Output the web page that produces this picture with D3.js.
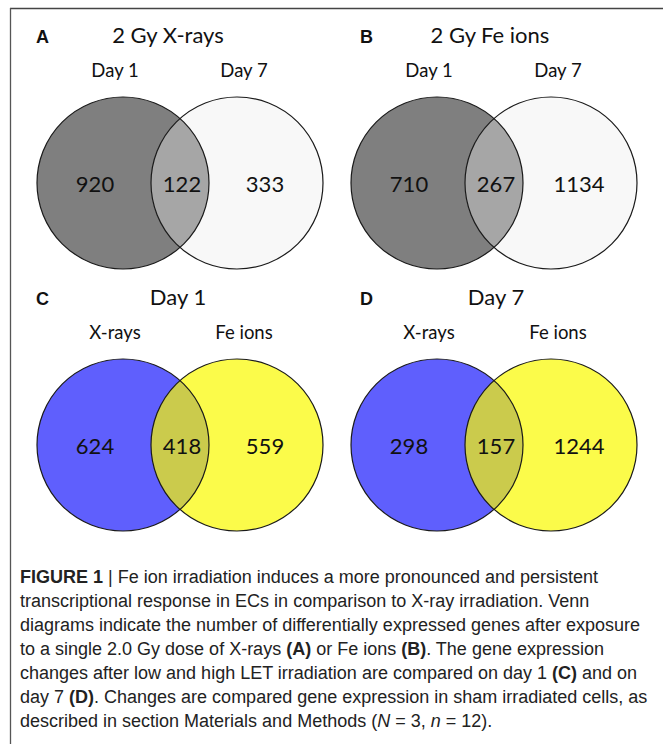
<!DOCTYPE html>
<html lang="en">
<head>
    <meta charset="utf-8">
    <title>Figure 1 Venn diagrams</title>
    <script src="https://d3js.org/d3.v7.min.js"></script>
    <style>
        body {
            margin: 0;
            background: #fff;
        }
        svg text {
            fill: #111;
        }
        .label {
            font-family: Lato, "Open Sans", sans-serif;
        }
        .letter {
            font-family: "Liberation Sans", Arial, sans-serif;
            font-weight: bold;
            font-size: 18px;
        }
        .caption {
            font-family: "Liberation Sans", Arial, sans-serif;
            font-size: 18px;
            fill: #222;
        }
    </style>
</head>
<body>
<script>

    var w = 663;
    var h = 744;

    // one entry per panel
    var panels = ["A", "B", "C", "D"];
    var titles = ["2 Gy X-rays", "2 Gy Fe ions", "Day 1", "Day 7"];
    var leftSets = ["Day 1", "Day 1", "X-rays", "X-rays"];
    var rightSets = ["Day 7", "Day 7", "Fe ions", "Fe ions"];
    var onlyLeft = [920, 710, 624, 298];
    var overlap = [122, 267, 418, 157];
    var onlyRight = [333, 1134, 559, 1244];

    var leftFill = ["#7f7f7f", "#7f7f7f", "#5f5ffd", "#5f5ffd"];
    var rightFill = ["#f8f8f8", "#f8f8f8", "#fbfb4a", "#fbfb4a"];
    var midFill = ["#a6a6a6", "#a6a6a6", "#cbcb4c", "#cbcb4c"];

    // caption lines (bold / italic pieces marked)
    var captionLines = [
        [["FIGURE 1", "b"], [" | Fe ion irradiation induces a more pronounced and persistent", ""]],
        [["transcriptional response in ECs in comparison to X-ray irradiation. Venn", ""]],
        [["diagrams indicate the number of differentially expressed genes after exposure", ""]],
        [["to a single 2.0 Gy dose of X-rays ", ""], ["(A)", "b"], [" or Fe ions ", ""], ["(B)", "b"], [". The gene expression", ""]],
        [["changes after low and high LET irradiation are compared on day 1 ", ""], ["(C)", "b"], [" and on", ""]],
        [["day 7 ", ""], ["(D)", "b"], [". Changes are compared gene expression in sham irradiated cells, as", ""]],
        [["described in section Materials and Methods (", ""], ["N", "i"], [" = 3, ", ""], ["n", "i"], [" = 12).", ""]]
    ];

    var r = 86;
    var gap = 114; // distance between circle centres

    // panel grid: column -> x of left circle, row -> y of circles
    var colX = d3.scaleOrdinal().domain([0, 1]).range([123, 437]);
    var rowY = d3.scaleOrdinal().domain([0, 1]).range([183, 445]);
    var letterX = d3.scaleOrdinal().domain([0, 1]).range([36, 360]);
    var titleShift = [45, 53, 55, 59]; // title centre relative to left circle

    var svg = d3.select("body")
        .append("svg")
        .attr("width", w)
        .attr("height", h);

    // frame lines (top + left)
    svg.append("line")
        .attr("x1", 10).attr("y1", 8.5).attr("x2", w).attr("y2", 8.5)
        .attr("stroke", "#444").attr("stroke-width", 1.6);
    svg.append("line")
        .attr("x1", 10.5).attr("y1", 8).attr("x2", 10.5).attr("y2", h)
        .attr("stroke", "#555").attr("stroke-width", 1.3);

    var defs = svg.append("defs");

    var g = svg.selectAll("g.panel")
        .data(panels)
        .enter()
        .append("g")
        .attr("class", "panel")
        .attr("transform", function(d, i){
            return "translate(" + colX(i % 2) + "," + rowY(Math.floor(i / 2)) + ")";
        });

    // clip path per panel so the overlap can be filled on its own
    defs.selectAll("clipPath")
        .data(panels)
        .enter()
        .append("clipPath")
        .attr("id", function(d){ return "clip" + d; })
        .append("circle")
        .attr("cx", 0).attr("cy", 0).attr("r", r);

    g.append("circle")
        .attr("cx", 0).attr("cy", 0).attr("r", r)
        .attr("fill", function(d, i){ return leftFill[i]; });

    g.append("circle")
        .attr("cx", gap).attr("cy", 0).attr("r", r)
        .attr("fill", function(d, i){ return rightFill[i]; });

    g.append("circle")
        .attr("cx", gap).attr("cy", 0).attr("r", r)
        .attr("fill", function(d, i){ return midFill[i]; })
        .attr("clip-path", function(d){ return "url(#clip" + d + ")"; });

    // outlines on top
    g.append("circle")
        .attr("cx", 0).attr("cy", 0).attr("r", r)
        .attr("fill", "none").attr("stroke", "#1a1a1a").attr("stroke-width", 1.2);
    g.append("circle")
        .attr("cx", gap).attr("cy", 0).attr("r", r)
        .attr("fill", "none").attr("stroke", "#1a1a1a").attr("stroke-width", 1.2);

    // panel letters
    svg.selectAll("text.letter")
        .data(panels)
        .enter()
        .append("text")
        .attr("class", "letter")
        .attr("x", function(d, i){ return letterX(i % 2); })
        .attr("y", function(d, i){ return rowY(Math.floor(i / 2)) - 140; })
        .text(function(d){ return d; });

    // titles
    g.append("text")
        .attr("class", "label")
        .attr("x", function(d, i){ return titleShift[i]; })
        .attr("y", -140)
        .attr("text-anchor", "middle")
        .style("font-size", "22px")
        .text(function(d, i){ return titles[i]; });

    // set names
    g.append("text")
        .attr("class", "label")
        .attr("x", -8)
        .attr("y", -106)
        .attr("text-anchor", "middle")
        .style("font-size", "18.5px")
        .text(function(d, i){ return leftSets[i]; });
    g.append("text")
        .attr("class", "label")
        .attr("x", gap + 7)
        .attr("y", -106)
        .attr("text-anchor", "middle")
        .style("font-size", "18.5px")
        .text(function(d, i){ return rightSets[i]; });

    // counts
    var counts = [
        {vals: onlyLeft, dx: -28},
        {vals: overlap, dx: 59},
        {vals: onlyRight, dx: 142}
    ];
    counts.forEach(function(c){
        g.append("text")
            .attr("class", "label")
            .attr("x", c.dx)
            .attr("y", 9)
            .attr("text-anchor", "middle")
            .style("font-size", "22px")
            .text(function(d, i){ return c.vals[i]; });
    });

    // caption
    var cap = svg.selectAll("text.caption")
        .data(captionLines)
        .enter()
        .append("text")
        .attr("class", "caption")
        .attr("x", 20)
        .attr("y", function(d, i){ return 583 + i * 24; });

    cap.selectAll("tspan")
        .data(function(d){ return d; })
        .enter()
        .append("tspan")
        .style("font-weight", function(d){ return d[1] == "b" ? "bold" : null; })
        .style("font-style", function(d){ return d[1] == "i" ? "italic" : null; })
        .text(function(d){ return d[0]; });

</script>
</body>
</html>
